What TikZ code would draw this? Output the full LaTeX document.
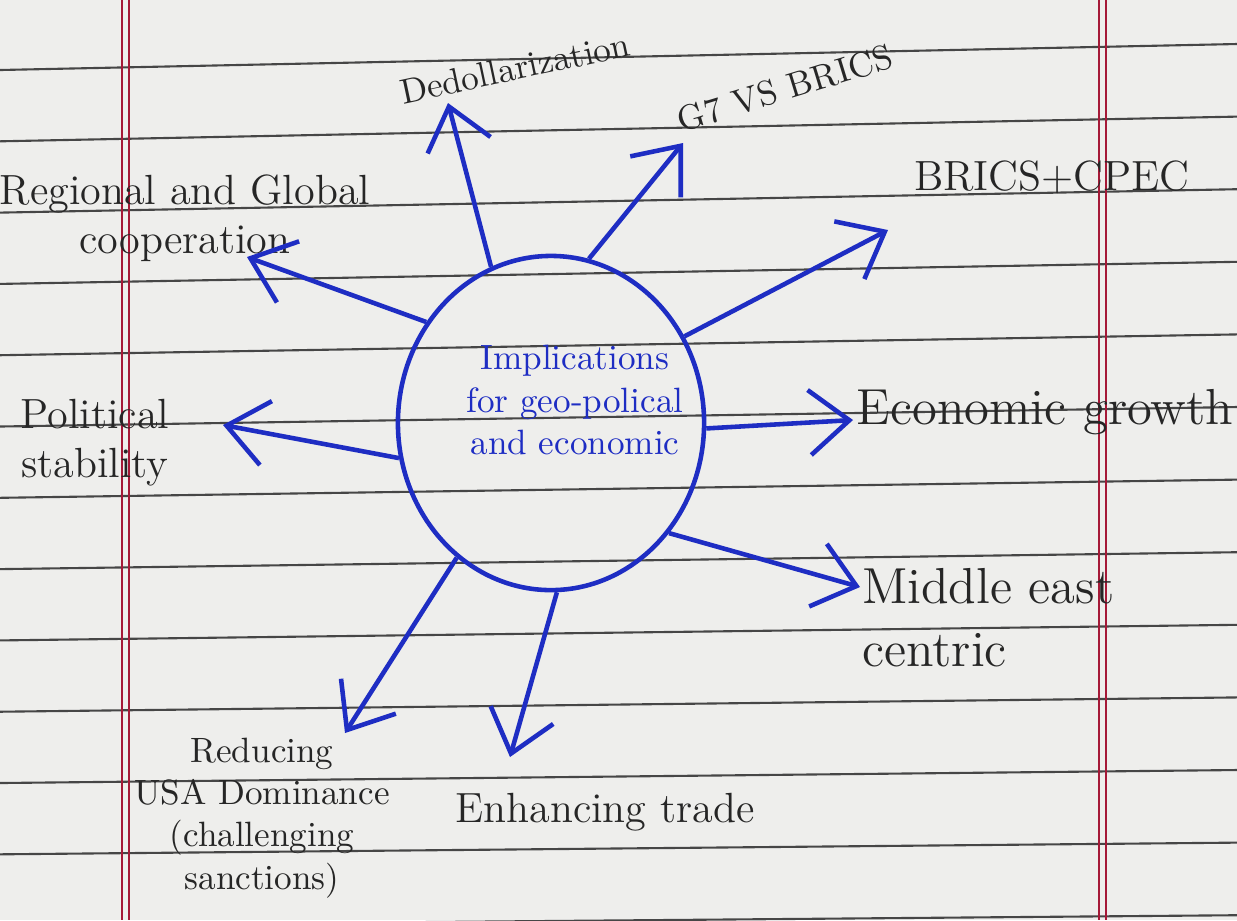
\documentclass[tikz,border=0pt]{standalone}
\usetikzlibrary{arrows.meta,shapes.geometric}
\definecolor{ink}{RGB}{30,45,195}
\definecolor{paper}{RGB}{238,238,236}
\definecolor{rule}{RGB}{70,70,70}
\definecolor{margin}{RGB}{165,25,55}

\begin{document}
\begin{tikzpicture}[x=0.01cm, y=-0.01cm]
    \tikzset{>={Straight Barb[length=4mm, width=6.5mm]},
      arr/.style={->, draw=ink, line width=1.3pt},
      lbl/.style={text=black!85, inner sep=1pt, align=center}}

    \fill[paper] (0,0) rectangle (1237,920);
    \useasboundingbox (0,0) rectangle (1237,920);

    % ruled paper
    \foreach \k in {0,...,12}
      \draw[rule, line width=0.6pt] (0,{70+71.3*\k}) -- (1237,{44+72.6*\k});
    \foreach \mx in {122,129,1099,1106}
      \draw[margin, line width=0.5pt] (\mx,0) -- (\mx,920);

    \node[draw=ink, line width=1.3pt, ellipse, minimum width=3.06cm, minimum height=3.34cm, inner sep=0pt] (hub) at (551,423) {};
    \node[text=ink, align=center] (hubtext) at (575,400) {Implications\\for geo-polical\\and economic};

    \node[lbl, rotate=12] (ded) at (515,68) {Dedollarization};
    \node[lbl, rotate=17] (gvb) at (785,88) {G7 VS BRICS};
    \node[lbl, font=\large] (bcp) at (1052,177) {BRICS+CPEC};
    \node[lbl, font=\large] (rgc) at (185,218) {Regional and Global\\cooperation};
    \node[lbl, font=\large] (pol) at (95,443) {Political\\stability};
    \node[lbl, font=\Large] (eco) at (1045,412) {Economic growth};
    \node[lbl, font=\Large, align=left, anchor=west] (mec) at (858,618) {Middle east\\centric};
    \node[lbl, font=\large] (trd) at (605,812) {Enhancing trade};
    \node[lbl] (usa) at (262,818) {Reducing\\USA Dominance\\(challenging\\sanctions)};

    % arrow tips
    \coordinate (tDed) at (448,103);
    \coordinate (tGvb) at (683,143);
    \coordinate (tBcp) at (888,230);
    \coordinate (tEco) at (853,420);
    \coordinate (tMec) at (860,587);
    \coordinate (tTrd) at (510,757);
    \coordinate (tUsa) at (345,733);
    \coordinate (tPol) at (223,425);
    \coordinate (tRgc) at (247,257);

    \draw[arr] (hub.111.5) -- (tDed);
    \draw[arr] (hub.77.4) -- (tGvb);
    \draw[arr] (hub.33.7) -- (tBcp);
    \draw[arr] (hub.-2.7) -- (tEco);
    \draw[arr] (hub.-43.2) -- (tMec);
    \draw[arr] (hub.-88) -- (tTrd);
    \draw[arr] (hub.-125.9) -- (tUsa);
    \draw[arr] (hub.193.8) -- (tPol);
    \draw[arr] (hub.141.3) -- (tRgc);
\end{tikzpicture}
\end{document}
